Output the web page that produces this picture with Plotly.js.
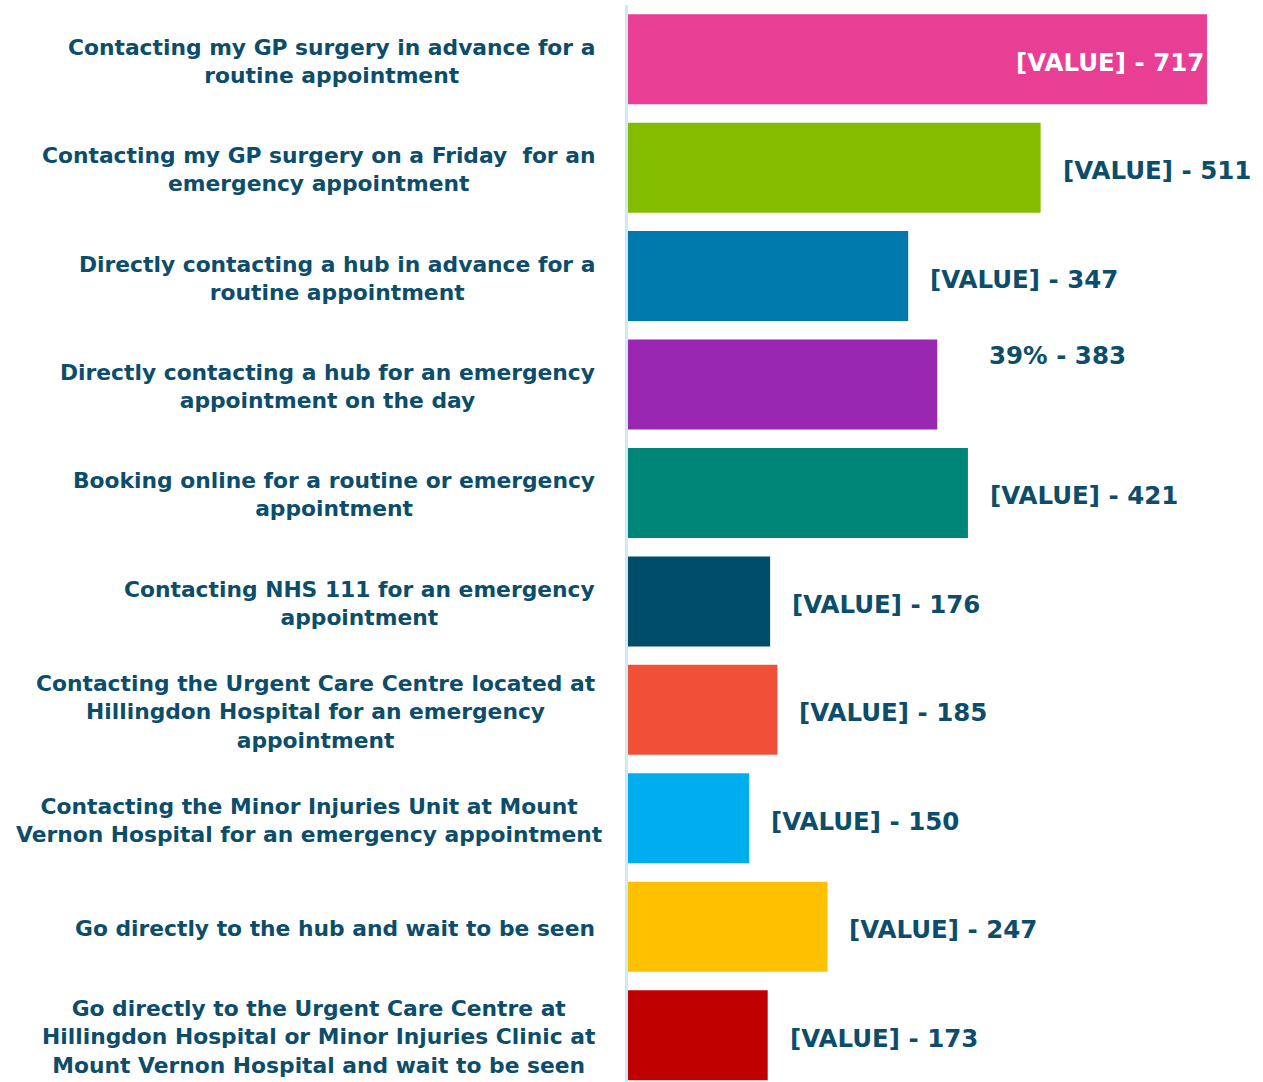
<!DOCTYPE html>
<html>
<head>
<meta charset="utf-8">
<script src="https://cdn.plot.ly/plotly-3.0.1.min.js"></script>
<style>html,body{margin:0;padding:0;background:#fff;}#chart{width:1263px;height:1082px;}</style>
</head>
<body>
<div id="chart"></div>
<script>
const categories = [
  "Contacting my GP surgery in advance for a<br>routine appointment",
  "Contacting my GP surgery on a Friday  for an<br>emergency appointment",
  "Directly contacting a hub in advance for a<br>routine appointment",
  "Directly contacting a hub for an emergency<br>appointment on the day",
  "Booking online for a routine or emergency<br>appointment",
  "Contacting NHS 111 for an emergency<br>appointment",
  "Contacting the Urgent Care Centre located at<br>Hillingdon Hospital for an emergency<br>appointment",
  "Contacting the Minor Injuries Unit at Mount<br>Vernon Hospital for an emergency appointment",
  "Go directly to the hub and wait to be seen",
  "Go directly to the Urgent Care Centre at<br>Hillingdon Hospital or Minor Injuries Clinic at<br>Mount Vernon Hospital and wait to be seen"
];
const values = [717, 511, 347, 383, 421, 176, 185, 150, 247, 173];
const valueLabels = ["[VALUE] - 717","[VALUE] - 511","[VALUE] - 347","39% - 383","[VALUE] - 421","[VALUE] - 176","[VALUE] - 185","[VALUE] - 150","[VALUE] - 247","[VALUE] - 173"];
const colors = ["#E83E94","#84BD00","#0079AC","#9A27B2","#008679","#004D6B","#F15038","#00AEEF","#FFC000","#C00000"];

const textColor = "#0B4D6A";
const fontFam = "'DejaVu Sans', Verdana, sans-serif";
const ids = categories.map((c, i) => i);

const annotations = [];
categories.forEach((c, i) => {
  annotations.push({
    xref: 'paper', yref: 'y', x: 0, y: i,
    xanchor: 'right', yanchor: 'middle', align: 'center',
    xshift: i === 7 ? -24 : -31,
    yshift: -2,
    text: '<b>' + c + '</b>', showarrow: false,
    font: {family: fontFam, size: 21.8, color: textColor}
  });
});
values.forEach((v, i) => {
  const inside = i === 0;
  annotations.push({
    xref: 'x', yref: 'y', x: v, y: i,
    xanchor: inside ? 'right' : 'left', yanchor: 'middle',
    xshift: inside ? -1 : (i === 3 ? 50 : 20),
    yshift: i === 3 ? 29 : -3,
    text: '<b>' + valueLabels[i] + '</b>', showarrow: false,
    font: {family: fontFam, size: 24.5, color: inside ? '#FFFFFF' : textColor}
  });
});

const trace = {
  type: 'bar', orientation: 'h',
  x: values, y: ids,
  marker: {color: colors},
  hoverinfo: 'none'
};

const layout = {
  width: 1263, height: 1082,
  margin: {l: 628, r: 0, t: 5, b: 0},
  paper_bgcolor: '#fff', plot_bgcolor: '#fff',
  showlegend: false,
  bargap: 0.17,
  xaxis: {range: [0, 786.4], showgrid: false, zeroline: false, showticklabels: false, showline: false},
  yaxis: {type: 'linear', range: [9.432, -0.5], showgrid: false, zeroline: false, showticklabels: false,
          showline: true, linecolor: '#CDEAF9', linewidth: 3, ticks: ''},
  annotations: annotations
};

Plotly.newPlot('chart', [trace], layout, {displayModeBar: false, staticPlot: true});
</script>
</body>
</html>
